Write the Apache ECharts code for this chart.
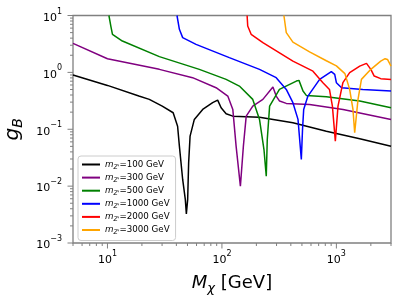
<!DOCTYPE html>
<html><head><meta charset="utf-8">
<script src="https://cdn.jsdelivr.net/npm/echarts@6/dist/echarts.min.js"></script>
<style>html,body{margin:0;padding:0;background:#fff}#c{width:407px;height:305px}</style>
</head><body><div id="c"></div>
<script>
// ---- data ----
const mx100 = [5, 10, 18.8, 23.2, 30.1, 37.5, 41.0, 42.5, 45.4, 47.9, 48.9, 50.2, 51.2, 52.7, 57.4, 67.9, 83.0, 91.8, 98.4, 108.8, 124.5, 213, 417, 817, 1600, 3000];
const gb100 = [0.896, 0.59, 0.383, 0.335, 0.255, 0.195, 0.113, 0.0504, 0.0131, 0.0058, 0.00325, 0.0058, 0.0257, 0.0756, 0.149, 0.223, 0.293, 0.325, 0.239, 0.187, 0.170, 0.163, 0.130, 0.0926, 0.068, 0.0504];

const mx300 = [5, 10, 28.4, 55.4, 88.9, 112.5, 124.5, 133, 145, 154, 163, 186, 228, 279, 298, 319, 365, 583, 1143, 3000];
const gb300 = [3.24, 1.74, 1.13, 0.807, 0.538, 0.383, 0.223, 0.0504, 0.00995, 0.0504, 0.170, 0.255, 0.335, 0.551, 0.383, 0.313, 0.285, 0.273, 0.223, 0.149];

const mx500 = [10.3, 10.7, 11.06, 11.4, 13.5, 28.4, 63.5, 108.8, 142, 186, 213, 233, 244, 249, 261, 318, 447, 471, 511, 546, 817, 1600, 3000];
const gb500 = [10, 6.53, 4.67, 4.36, 3.56, 1.89, 1.13, 0.753, 0.574, 0.335, 0.149, 0.044, 0.0149, 0.066, 0.255, 0.502, 0.703, 0.723, 0.469, 0.394, 0.373, 0.313, 0.239];

const mx1000 = [40.5, 42.5, 45.4, 59.4, 116, 213, 298, 365, 417, 462, 494, 506, 518, 564, 714, 903, 967, 1000, 1110, 1700, 3000];
const gb1000 = [10, 5.71, 4.08, 3.11, 1.82, 1.13, 0.807, 0.502, 0.293, 0.149, 0.0294, 0.099, 0.223, 0.383, 0.753, 1.03, 0.922, 0.659, 0.538, 0.502, 0.469];

const mx2000 = [166, 168, 180, 228, 417, 624, 763, 870, 923, 979, 1033, 1140, 1306, 1600, 1832, 2000, 2140, 2440, 3000];
const gb2000 = [10, 6.53, 4.67, 3.33, 1.58, 1.05, 0.659, 0.502, 0.255, 0.0617, 0.255, 0.659, 0.988, 1.29, 1.44, 1.13, 0.861, 0.775, 0.753];

const mx3000 = [348, 365, 417, 583, 817, 1000, 1187, 1306, 1396, 1445, 1514, 1545, 1655, 2000, 2440, 2665, 2795, 3000];
const gb3000 = [10, 5.0, 3.4, 2.3, 1.6, 1.3, 0.95, 0.502, 0.223, 0.0867, 0.223, 0.335, 0.753, 1.13, 1.58, 1.74, 1.69, 1.29];

const seriesNames = ['100', '300', '500', '1000', '2000', '3000'];
const seriesColors = ['#000000', '#800080', '#008000', '#0000ff', '#ff0000', '#ffa500'];

const xMajorTicks = [10, 100, 1000];
const xMinorTicks = [5, 6, 7, 8, 9, 20, 30, 40, 50, 60, 70, 80, 90, 200, 300, 400, 500, 600, 700, 800, 900, 2000, 3000];
const yMajorTicks = [0.001, 0.01, 0.1, 1, 10];
const yMinorTicks = [];
[0.001, 0.01, 0.1, 1].forEach(function (d) { for (let k = 2; k <= 9; k++) yMinorTicks.push(+(d * k).toPrecision(3)); });

const X_MIN = 5, X_MAX = 3000, Y_MIN = 0.001, Y_MAX = 10;
// ---------------------------------------

const allX = [mx100, mx300, mx500, mx1000, mx2000, mx3000];
const allY = [gb100, gb300, gb500, gb1000, gb2000, gb3000];
const FONT = 'DejaVu Sans';
const AXC = '#808080';

function powLabel(v) {
  const l = Math.log10(v);
  const n = Math.round(l);
  if (Math.abs(l - n) > 1e-6) return '';
  return '{b|10}{e|' + (n < 0 ? '\u2212' + (-n) : String(n)) + '}';
}
const tickRich = {
  b: { fontSize: 11, lineHeight: 16, verticalAlign: 'bottom', fontFamily: FONT, color: '#000' },
  e: { fontSize: 8, lineHeight: 9, verticalAlign: 'top', fontFamily: FONT, color: '#000' }
};

const lineSeries = seriesNames.map(function (nm, i) {
  return {
    name: nm, type: 'line', showSymbol: false, symbol: 'none', clip: true,
    lineStyle: { width: 1.5, color: seriesColors[i] }, itemStyle: { color: seriesColors[i] },
    data: allX[i].map(function (x, j) { return [x, allY[i][j]]; }),
    z: 2 + i
  };
});

function tickSeries(vals, axis, len) {
  return {
    type: 'custom', silent: true, clip: false, legendHoverLink: false, z: 10,
    data: vals.map(function (v) { return [v]; }),
    renderItem: function (params, api) {
      const v = api.value(0);
      let p, shape;
      if (axis === 'x') { p = api.coord([v, Y_MIN]); shape = { x1: p[0], y1: p[1], x2: p[0], y2: p[1] + len }; }
      else { p = api.coord([X_MIN, v]); shape = { x1: p[0] - len, y1: p[1], x2: p[0], y2: p[1] }; }
      return { type: 'line', shape: shape, style: { stroke: AXC, lineWidth: 1 } };
    }
  };
}

const chart = echarts.init(document.getElementById('c'), null, { renderer: 'canvas' });
chart.setOption({
  animation: false,
  backgroundColor: '#fff',
  grid: { left: 73, right: 16, top: 15.5, bottom: 62, containLabel: false, outerBoundsMode: 'none',
          show: true, borderColor: AXC, borderWidth: 1.3, backgroundColor: 'transparent' },
  xAxis: {
    type: 'log', logBase: 10, min: X_MIN, max: X_MAX,
    axisLine: { show: false }, axisTick: { show: false }, splitLine: { show: false }, minorTick: { show: false },
    axisLabel: { formatter: powLabel, rich: tickRich, margin: 7, showMinLabel: false, showMaxLabel: false },
    name: '{i|M}{s|\u03c7} [GeV]', nameLocation: 'middle', nameGap: 23,
    nameTextStyle: {
      fontFamily: FONT, fontSize: 18, color: '#000', lineHeight: 24,
      rich: {
        i: { fontSize: 18, fontStyle: 'italic', fontFamily: FONT, lineHeight: 24 },
        s: { fontSize: 13, fontStyle: 'italic', fontFamily: FONT, lineHeight: 12, verticalAlign: 'bottom' }
      }
    }
  },
  yAxis: {
    type: 'log', logBase: 10, min: Y_MIN, max: Y_MAX,
    axisLine: { show: false }, axisTick: { show: false }, splitLine: { show: false }, minorTick: { show: false },
    axisLabel: { formatter: powLabel, rich: tickRich, margin: 11 },
    name: '{i|g}{s|B}', nameLocation: 'middle', nameGap: 46,
    nameTextStyle: {
      fontFamily: FONT, fontSize: 20, color: '#000', lineHeight: 26,
      rich: {
        i: { fontSize: 20, fontStyle: 'italic', fontFamily: FONT, lineHeight: 26 },
        s: { fontSize: 14, fontStyle: 'italic', fontFamily: FONT, lineHeight: 12, verticalAlign: 'bottom' }
      }
    }
  },
  legend: {
    orient: 'vertical', left: 78, top: 156, icon: 'rect', itemWidth: 18, itemHeight: 2, itemGap: 2.1,
    padding: [3, 6, 5, 4], borderColor: '#cccccc', borderWidth: 1, borderRadius: 3, backgroundColor: 'rgba(255,255,255,0.8)',
    data: seriesNames,
    formatter: function (n) { return '{i|m}{s|Z\'}=' + n + ' GeV'; },
    textStyle: {
      fontFamily: FONT, fontSize: 8.7, color: '#000', lineHeight: 11,
      rich: {
        i: { fontFamily: FONT, fontSize: 8.7, fontStyle: 'italic', lineHeight: 11 },
        s: { fontFamily: FONT, fontSize: 6.2, fontStyle: 'italic', lineHeight: 7, verticalAlign: 'bottom' }
      }
    }
  },
  series: lineSeries.concat([
    tickSeries(xMajorTicks, 'x', 5.5), tickSeries(xMinorTicks, 'x', 3),
    tickSeries(yMajorTicks, 'y', 5.5), tickSeries(yMinorTicks, 'y', 3)
  ])
});
</script></body></html>
